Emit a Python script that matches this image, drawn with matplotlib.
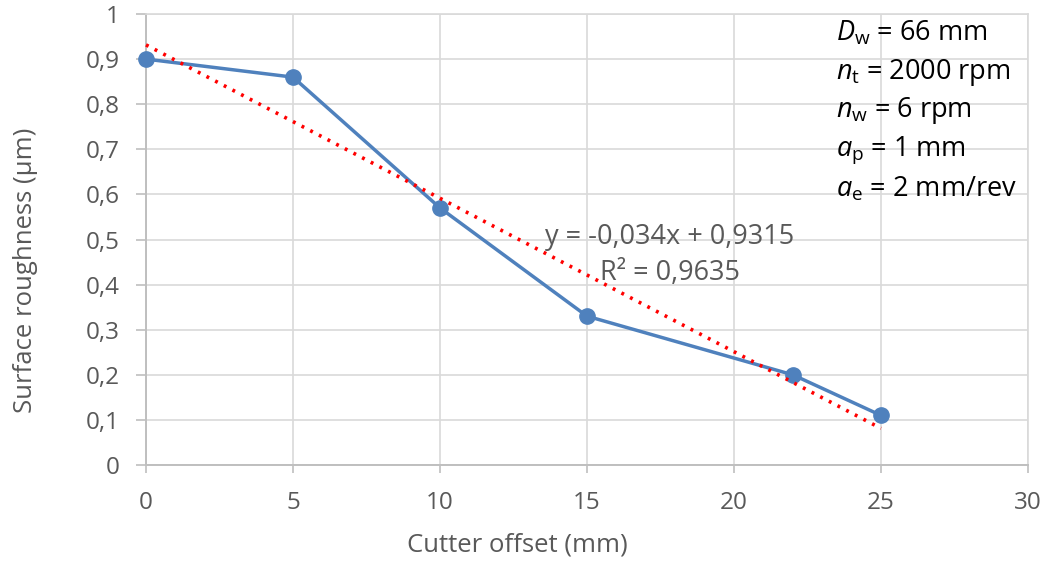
import numpy as np
import matplotlib
matplotlib.use("Agg")
import matplotlib.pyplot as plt
from matplotlib.ticker import FuncFormatter

plt.rcParams['font.family'] = ['Open Sans', 'DejaVu Sans']
plt.rcParams['mathtext.fontset'] = 'custom'
plt.rcParams['mathtext.rm'] = 'Open Sans'
plt.rcParams['mathtext.it'] = 'Open Sans:italic'

offset_mm = [0, 5, 10, 15, 22, 25]
roughness_um = [0.9, 0.86, 0.57, 0.33, 0.2, 0.11]
trend_eq = "y = -0,034x + 0,9315"
trend_r2 = "R² = 0,9635"
param_lines = [r"$D_\mathrm{w}$ = 66 mm", r"$n_\mathrm{t}$ = 2000 rpm",
               r"$n_\mathrm{w}$ = 6 rpm", r"$a_\mathrm{p}$ = 1 mm",
               r"$a_\mathrm{e}$ = 2 mm/rev"]

fig = plt.figure(figsize=(10.48, 5.72), dpi=100)
ax = fig.add_axes([146/1048, 1-465/572, 882/1048, 451/572])

blue = '#4f81bd'
ax.plot(offset_mm, roughness_um, color=blue, lw=2.5, marker='o', ms=11,
        zorder=3, clip_on=False)

coef = np.polyfit(offset_mm, roughness_um, 1)
xs = np.array([offset_mm[0], offset_mm[-1]])
ax.plot(xs, np.polyval(coef, xs), color='#ff0000', lw=2.6,
        linestyle=(0, (0.8, 1.9)), zorder=4, clip_on=False)

ax.set_xlim(0, 30)
ax.set_ylim(0, 1)
ax.set_xticks(np.arange(0, 31, 5))
ax.set_yticks(np.round(np.arange(0, 1.01, 0.1), 1))
fmt = lambda v, p: (f"{v:.1f}".rstrip('0').rstrip('.') if v not in (0, 1) else f"{int(v)}").replace('.', ',')
ax.yaxis.set_major_formatter(FuncFormatter(fmt))
ax.grid(True, color='#d9d9d9', lw=1.2)
ax.set_axisbelow(True)
for s in ['top', 'right']:
    ax.spines[s].set_color('#d9d9d9')
    ax.spines[s].set_linewidth(1.2)
for s in ['left', 'bottom']:
    ax.spines[s].set_color('#bfbfbf')
    ax.spines[s].set_linewidth(1.4)
ax.tick_params(axis='x', direction='out', length=6, width=1.2, color='#bfbfbf',
               labelsize=17.5, labelcolor='#595959', pad=13)
ax.tick_params(axis='y', direction='out', length=7, width=1.2, color='#bfbfbf',
               labelsize=17.5, labelcolor='#595959', pad=12)

ax.set_xlabel("Cutter offset (mm)", fontsize=18.5, color='#595959')
ax.set_ylabel("Surface roughness (µm)", fontsize=18.5, color='#595959')
ax.xaxis.set_label_coords((517-146)/882, (465-533)/451)
ax.yaxis.set_label_coords((38-146)/882, (465-270)/451)

ax.text((670-146)/882, (465-237)/451, trend_eq, transform=ax.transAxes,
        ha='center', va='center', fontsize=19.5, color='#595959')
ax.text((670-146)/882, (465-273)/451, trend_r2, transform=ax.transAxes,
        ha='center', va='center', fontsize=19.5, color='#595959')

for i, t in enumerate(param_lines):
    ax.text((836-146)/882, (465-(33+39*i))/451, t, transform=ax.transAxes,
            ha='left', va='center', fontsize=19.5, color='black')

fig.savefig("out.png", dpi=100)
